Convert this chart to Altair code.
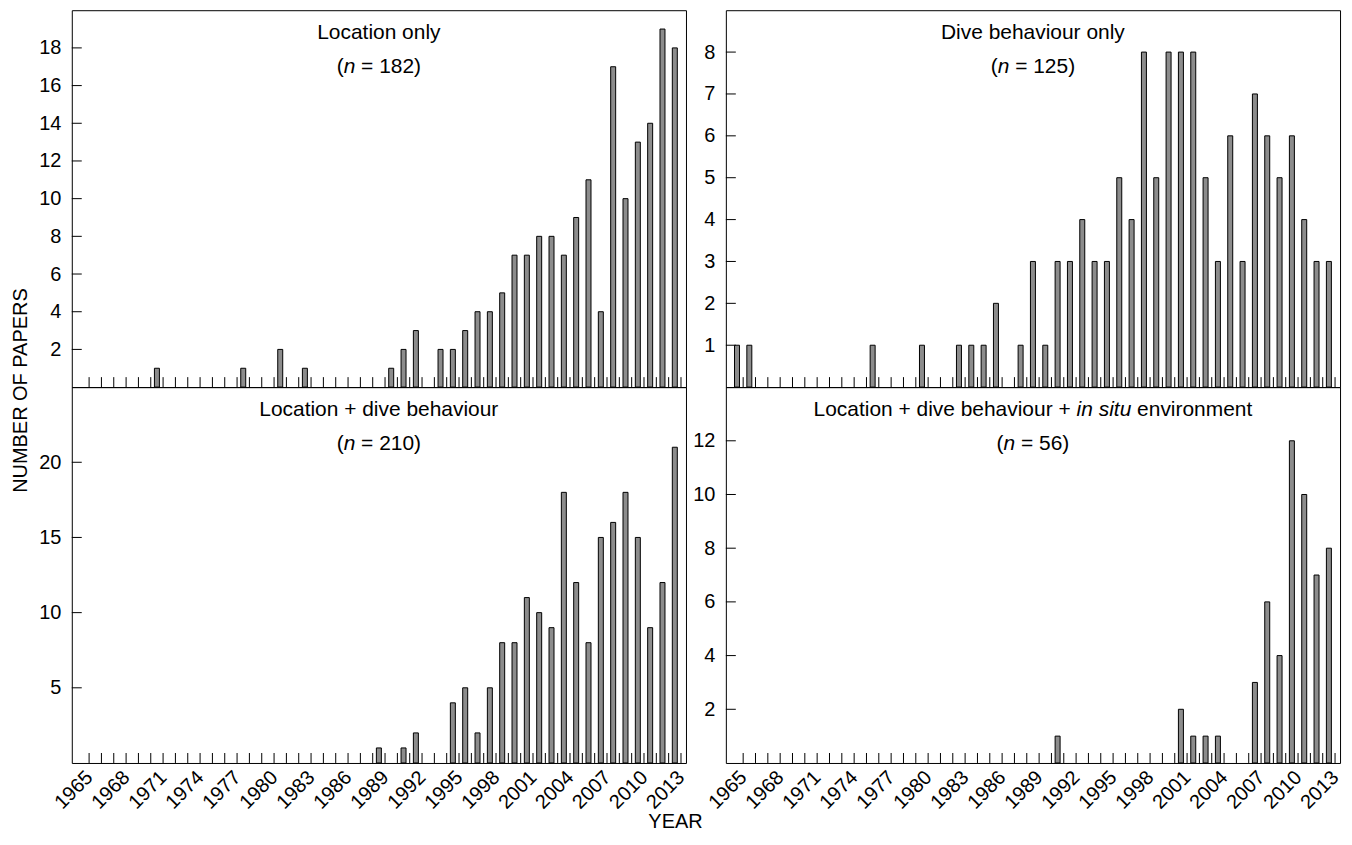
import altair as alt
import pandas as pd

# ---------------- data ----------------
YEARS = list(range(1965, 2014))
LABEL_YEARS = [1965, 1968, 1971, 1974, 1977, 1980, 1983, 1986, 1989, 1992,
               1995, 1998, 2001, 2004, 2007, 2010, 2013]

LOC_ONLY = [0, 0, 0, 0, 0, 0, 1, 0, 0, 0, 0, 0, 0, 1, 0, 0, 2, 0, 1, 0,
            0, 0, 0, 0, 0, 1, 2, 3, 0, 2, 2, 3, 4, 4, 5, 7, 7, 8, 8, 7,
            9, 11, 4, 17, 10, 13, 14, 19, 18]
DIVE_ONLY = [1, 1, 0, 0, 0, 0, 0, 0, 0, 0, 0, 1, 0, 0, 0, 1, 0, 0, 1, 1,
             1, 2, 0, 1, 3, 1, 3, 3, 4, 3, 3, 5, 4, 8, 5, 8, 8, 8, 5, 3,
             6, 3, 7, 6, 5, 6, 4, 3, 3]
LOC_DIVE = [0, 0, 0, 0, 0, 0, 0, 0, 0, 0, 0, 0, 0, 0, 0, 0, 0, 0, 0, 0,
            0, 0, 0, 0, 1, 0, 1, 2, 0, 0, 4, 5, 2, 5, 8, 8, 11, 10, 9, 18,
            12, 8, 15, 16, 18, 15, 9, 12, 21]
LOC_DIVE_ENV = [0, 0, 0, 0, 0, 0, 0, 0, 0, 0, 0, 0, 0, 0, 0, 0, 0, 0, 0, 0,
                0, 0, 0, 0, 0, 0, 1, 0, 0, 0, 0, 0, 0, 0, 0, 0, 2, 1, 1, 1,
                0, 0, 3, 6, 4, 12, 10, 7, 8]

PANEL_TITLES = [
    [("Location only", False)],
    [("Dive behaviour only", False)],
    [("Location + dive behaviour", False)],
    [("Location + dive behaviour + ", False), ("in situ", True), (" environment", False)],
]
PANEL_N = ["182", "125", "210", "56"]
Y_MAX = [20, 9, 25, 14]
Y_TICKS = [
    [2, 4, 6, 8, 10, 12, 14, 16, 18],
    [1, 2, 3, 4, 5, 6, 7, 8],
    [5, 10, 15, 20],
    [2, 4, 6, 8, 10, 12],
]

# ---------------- styling ----------------
FONT = "Liberation Sans"
W = 616
H_TOP = 378
H_BOT = 377
TITLE_SIZE = 21
TICK_LABEL_SIZE = 20
YEAR_LABEL_SIZE = 20
AXIS_TITLE_SIZE = 20
BAR_FILL = "#8c8c8c"

CHAR_W = {" ": 278, "(": 333, ")": 333, "=": 584, "+": 584,
          "L": 556, "D": 722, "a": 556, "b": 556, "c": 500, "d": 556,
          "e": 556, "h": 556, "i": 222, "l": 222, "m": 833, "n": 556,
          "o": 556, "r": 333, "s": 500, "t": 278, "u": 556, "v": 500,
          "y": 500}


def text_width(s, size):
    return sum(CHAR_W.get(c, 556) for c in s) * size / 1000.0


def text_layers(pieces, cy, size):
    total = sum(text_width(t, size) for t, _ in pieces)
    x = W / 2 - total / 2
    layers = []
    for t, italic in pieces:
        stripped = t.lstrip(" ")
        lead = text_width(t[: len(t) - len(stripped)], size)
        shown = stripped.rstrip(" ")
        layers.append(
            alt.Chart(pd.DataFrame({"t": [shown]}))
            .mark_text(align="left", baseline="middle", font=FONT, fontSize=size,
                       fontStyle="italic" if italic else "normal", color="black")
            .encode(text="t:N", x=alt.value(float(x + lead)), y=alt.value(float(cy)))
        )
        x += text_width(t, size)
    return layers


def panel(i, values, height, bottom, ytitle=False, xtitle=False):
    df = pd.DataFrame({"year": YEARS, "papers": values})
    xscale = alt.Scale(domain=[1964, 2013], nice=False, zero=False)
    yscale = alt.Scale(domain=[0, Y_MAX[i]], nice=False, zero=True)

    if bottom:
        xargs = dict(values=LABEL_YEARS, format="d", labelAngle=315, labelAlign="right",
                     labelBaseline="middle", labelPadding=11, labelOverlap=False,
                     ticks=False, tickSize=0, domain=False, grid=False,
                     labelFontSize=YEAR_LABEL_SIZE, labelFont=FONT, labelColor="black")
        if xtitle:
            xargs.update(title="YEAR", titleX=605, titleY=59, titleAlign="center",
                         titleBaseline="middle", titleAngle=0, titleFont=FONT,
                         titleFontSize=AXIS_TITLE_SIZE, titleFontWeight="normal",
                         titleColor="black")
        else:
            xargs.update(title=None)
        xaxis = alt.Axis(**xargs)
    else:
        xaxis = None

    yargs = dict(values=Y_TICKS[i], ticks=False, tickSize=0, domain=False, grid=False,
                 labelPadding=11, labelFontSize=TICK_LABEL_SIZE, labelFont=FONT,
                 labelColor="black", labelOverlap=False, minExtent=33)
    if ytitle:
        yargs.update(title="NUMBER OF PAPERS", titleX=-51, titleY=3, titleAngle=270,
                     titleAlign="center", titleBaseline="middle", titleFont=FONT,
                     titleFontSize=AXIS_TITLE_SIZE, titleFontWeight="normal",
                     titleColor="black")
    else:
        yargs.update(title=None)
    yaxis = alt.Axis(**yargs)

    bars = (
        alt.Chart(df)
        .transform_filter("datum.papers > 0")
        .transform_calculate(xc="datum.year - 0.5")
        .mark_bar(size=5, fill=BAR_FILL, stroke="black", strokeWidth=1)
        .encode(x=alt.X("xc:Q", scale=xscale, axis=xaxis),
                y=alt.Y("papers:Q", scale=yscale, axis=yaxis))
    )
    xticks = (
        alt.Chart(pd.DataFrame({"year": YEARS}))
        .mark_rule(color="black", strokeWidth=1)
        .encode(x=alt.X("year:Q", scale=xscale, axis=xaxis),
                y=alt.value(height), y2=alt.value(height - 10))
    )
    yticks = (
        alt.Chart(pd.DataFrame({"v": Y_TICKS[i]}))
        .mark_rule(color="black", strokeWidth=1)
        .encode(y=alt.Y("v:Q", scale=yscale, axis=yaxis),
                x=alt.value(0), x2=alt.value(10))
    )
    texts = text_layers(PANEL_TITLES[i], 23, TITLE_SIZE)
    texts += text_layers([("(", False), ("n", True), (" = " + PANEL_N[i] + ")", False)],
                         57, TITLE_SIZE)
    return alt.layer(bars, xticks, yticks, *texts).properties(width=W, height=height)


p1 = panel(0, LOC_ONLY, H_TOP, bottom=False)
p2 = panel(1, DIVE_ONLY, H_TOP, bottom=False)
p3 = panel(2, LOC_DIVE, H_BOT, bottom=True, ytitle=True, xtitle=True)
p4 = panel(3, LOC_DIVE_ENV, H_BOT, bottom=True)

chart = (
    alt.concat(p1, p2, p3, p4, columns=2, spacing={"row": 0, "column": 40}, bounds="flush")
    .properties(padding={"left": 10, "top": 8, "right": 9, "bottom": 5}, background="white")
    .configure_view(stroke="black", strokeWidth=1)
)

chart.save("out.html", embed_options={"renderer": "svg", "actions": False})
